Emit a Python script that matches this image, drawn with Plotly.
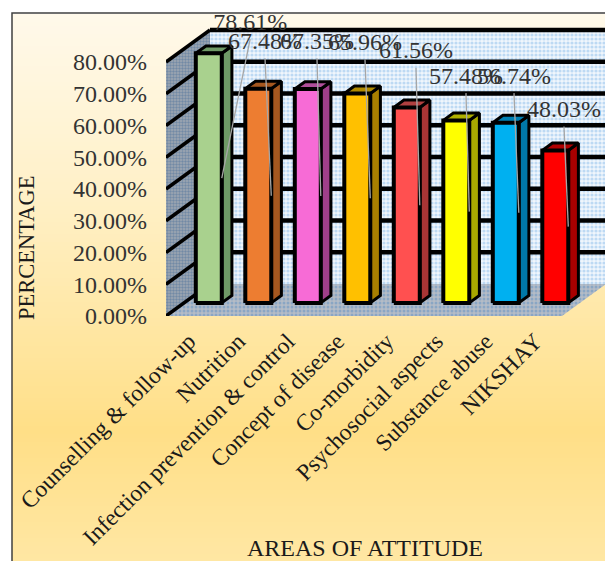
import plotly.graph_objects as go

# Chart data
categories = ["Counselling & follow-up", "Nutrition", "Infection prevention & control",
              "Concept of disease", "Co-morbidity", "Psychosocial aspects",
              "Substance abuse", "NIKSHAY"]
values = [78.61, 67.48, 67.35, 65.96, 61.56, 57.48, 56.74, 48.03]
front_colors = ["#A9D18E", "#ED7D31", "#F76BD6", "#FFC000", "#FF5050", "#FFFF00", "#00B0F0", "#FF0000"]
side_colors = ["#6F9A66", "#A5571F", "#A03F8A", "#A87F00", "#A83535", "#A8A800", "#0078A8", "#A80000"]
top_colors = ["#6F9A66", "#A5571F", "#B04F9A", "#B08A00", "#B04040", "#B0B000", "#0080B4", "#B00000"]
y_ticks = [0, 10, 20, 30, 40, 50, 60, 70, 80]
y_tick_labels = ["0.00%", "10.00%", "20.00%", "30.00%", "40.00%", "50.00%", "60.00%", "70.00%", "80.00%"]

# Dragged data-label centres, in axis units
label_x = [1.70, 2.00, 3.05, 4.02, 5.05, 6.06, 7.03, 8.04]
label_y = [92.0, 86.0, 86.0, 85.6, 83.0, 75.0, 75.0, 64.5]

# Canvas and plot-area geometry (pixels)
W, H = 605, 561
L, T, B = 166, 13, 316
PX_PER_CAT = 49.5
PX_PER_PCT = 3.175
X_MAX = (W - L) / PX_PER_CAT
Y_MAX = (B - T) / PX_PER_PCT

# Oblique projection: how far one unit of depth moves a point
DX, DY = 44 / PX_PER_CAT, 32 / PX_PER_PCT
BAR_WIDTH = 0.525
BAR_D0, BAR_D1 = 0.41, 0.64
TOP_V = 80


def proj(x, v, d=0.0):
    return x + d * DX, v + d * DY


def poly(points, fill, line=None, width=0, pattern=None):
    xs, ys = zip(*(points + points[:1]))
    trace = dict(x=list(xs), y=list(ys), mode="lines", fill="toself", hoverinfo="skip",
                 showlegend=False, line=dict(color=line or "rgba(0,0,0,0)", width=width),
                 fillcolor=fill)
    if pattern:
        trace["fillpattern"] = pattern
    return go.Scatter(**trace)


def seg(a, b, color="black", width=4):
    return go.Scatter(x=[a[0], b[0]], y=[a[1], b[1]], mode="lines", hoverinfo="skip",
                      showlegend=False, line=dict(color=color, width=width))


fig = go.Figure()
n = len(categories)

# Walls and floor
fig.add_trace(poly([proj(0, 0, 1), proj(n, 0, 1), proj(n, TOP_V, 1), proj(0, TOP_V, 1)], "white",
                   pattern=dict(shape=".", size=4, solidity=0.5, fgcolor="#8ABCEA", bgcolor="#F0F6FC")))
fig.add_trace(poly([proj(0, 0), proj(0, 0, 1), proj(0, TOP_V, 1), proj(0, TOP_V)], "#8391A6",
                   pattern=dict(shape=".", size=3, solidity=0.5, fgcolor="#446C98", bgcolor="#A0A8B2")))
fig.add_trace(poly([proj(0, 0), proj(n, 0), proj(n, 0, 1), proj(0, 0, 1)], "#A9B5C6",
                   pattern=dict(shape=".", size=4, solidity=0.45, fgcolor="#5F90C2", bgcolor="#B5BCC6")))

# Gridlines run along the side wall and across the back wall
for v in y_ticks:
    if v > 0:
        fig.add_trace(seg(proj(0, v, 1), proj(n, v, 1), width=4.5))
    fig.add_trace(seg(proj(0, v), proj(0, v, 1), width=3.5))

# 3-D columns: side, top, then front face
for i, v in enumerate(values):
    x0 = i + 0.5 - BAR_WIDTH / 2
    x1 = i + 0.5 + BAR_WIDTH / 2
    fig.add_trace(poly([proj(x1, 0, BAR_D0), proj(x1, 0, BAR_D1), proj(x1, v, BAR_D1), proj(x1, v, BAR_D0)],
                       side_colors[i], "black", 3))
    fig.add_trace(poly([proj(x0, v, BAR_D0), proj(x1, v, BAR_D0), proj(x1, v, BAR_D1), proj(x0, v, BAR_D1)],
                       top_colors[i], "black", 3))
    fig.add_trace(poly([proj(x0, 0, BAR_D0), proj(x1, 0, BAR_D0), proj(x1, v, BAR_D0), proj(x0, v, BAR_D0)],
                       front_colors[i], "black", 4))

# Leader lines from each moved label to the middle of its column
for i, v in enumerate(values):
    x1 = i + 0.5 + BAR_WIDTH / 2
    fig.add_trace(seg((label_x[i], label_y[i] - 4.8), proj(x1, v / 2, BAR_D0), color="#A6A6A6", width=1.3))

fig.add_trace(go.Scatter(x=label_x, y=label_y, mode="text", hoverinfo="skip", showlegend=False,
                         text=[f"{v:.2f}%" for v in values], cliponaxis=False,
                         textfont=dict(family="Liberation Serif", size=24, color="#333333")))

# Background: vertical gradient bands inside the thin chart frame
def mix(a, b, t):
    return "#" + "".join(f"{round(int(a[k:k+2], 16) * (1 - t) + int(b[k:k+2], 16) * t):02X}" for k in (1, 3, 5))


def px_x(p):
    return (p - L) / (W - L)


def px_y(p):
    return (B - p) / (B - T)


STOPS = [(14, "#FFF9EA"), (200, "#FFF0C6"), (430, "#FFDF87"), (561, "#FFE7A4")]
shapes = []
BAND = 4
for py in range(14, H, BAND):
    for (a, ca), (b, cb) in zip(STOPS, STOPS[1:]):
        if a <= py <= b:
            color = mix(ca, cb, (py - a) / (b - a))
            break
    shapes.append(dict(type="rect", xref="paper", yref="paper", layer="below",
                       x0=px_x(12), x1=px_x(W), y0=px_y(py + BAND + 0.5), y1=px_y(py),
                       fillcolor=color, line=dict(width=0)))
shapes.append(dict(type="path", xref="paper", yref="paper", layer="above",
                   path=f"M {px_x(12)} {px_y(H)} L {px_x(12)} {px_y(13)} L {px_x(W)} {px_y(13)}",
                   line=dict(color="#404040", width=1.5)))

annotations = [
    dict(text="PERCENTAGE", xref="paper", yref="paper", x=px_x(27), y=px_y(248), textangle=-90,
         showarrow=False, font=dict(family="Liberation Serif", size=22.5, color="#1A1A1A"),
         xanchor="center", yanchor="middle"),
    dict(text="AREAS OF ATTITUDE", xref="paper", yref="paper", x=px_x(365), y=px_y(547.5),
         showarrow=False, font=dict(family="Liberation Serif", size=24, color="#1A1A1A"),
         xanchor="center", yanchor="middle"),
]

fig.update_layout(
    width=W, height=H, autosize=False,
    margin=dict(l=L, r=0, t=T, b=H - B, pad=0),
    paper_bgcolor="white", plot_bgcolor="rgba(0,0,0,0)",
    shapes=shapes, annotations=annotations, showlegend=False,
    xaxis=dict(range=[0, X_MAX], tickvals=[i + 0.46 for i in range(n)], ticktext=categories,
               tickangle=-45, showgrid=False, zeroline=False, showline=False, ticks="", fixedrange=True,
               ticklabelstandoff=6,
               tickfont=dict(family="Liberation Serif", size=23.5, color="#1A1A1A")),
    yaxis=dict(range=[0, Y_MAX], tickvals=y_ticks, ticktext=y_tick_labels,
               showgrid=False, zeroline=False, showline=False, ticks="", fixedrange=True,
               ticklabelstandoff=18,
               tickfont=dict(family="Liberation Serif", size=24, color="#333333")),
)

fig.write_html("out.html", config=dict(displayModeBar=False))
